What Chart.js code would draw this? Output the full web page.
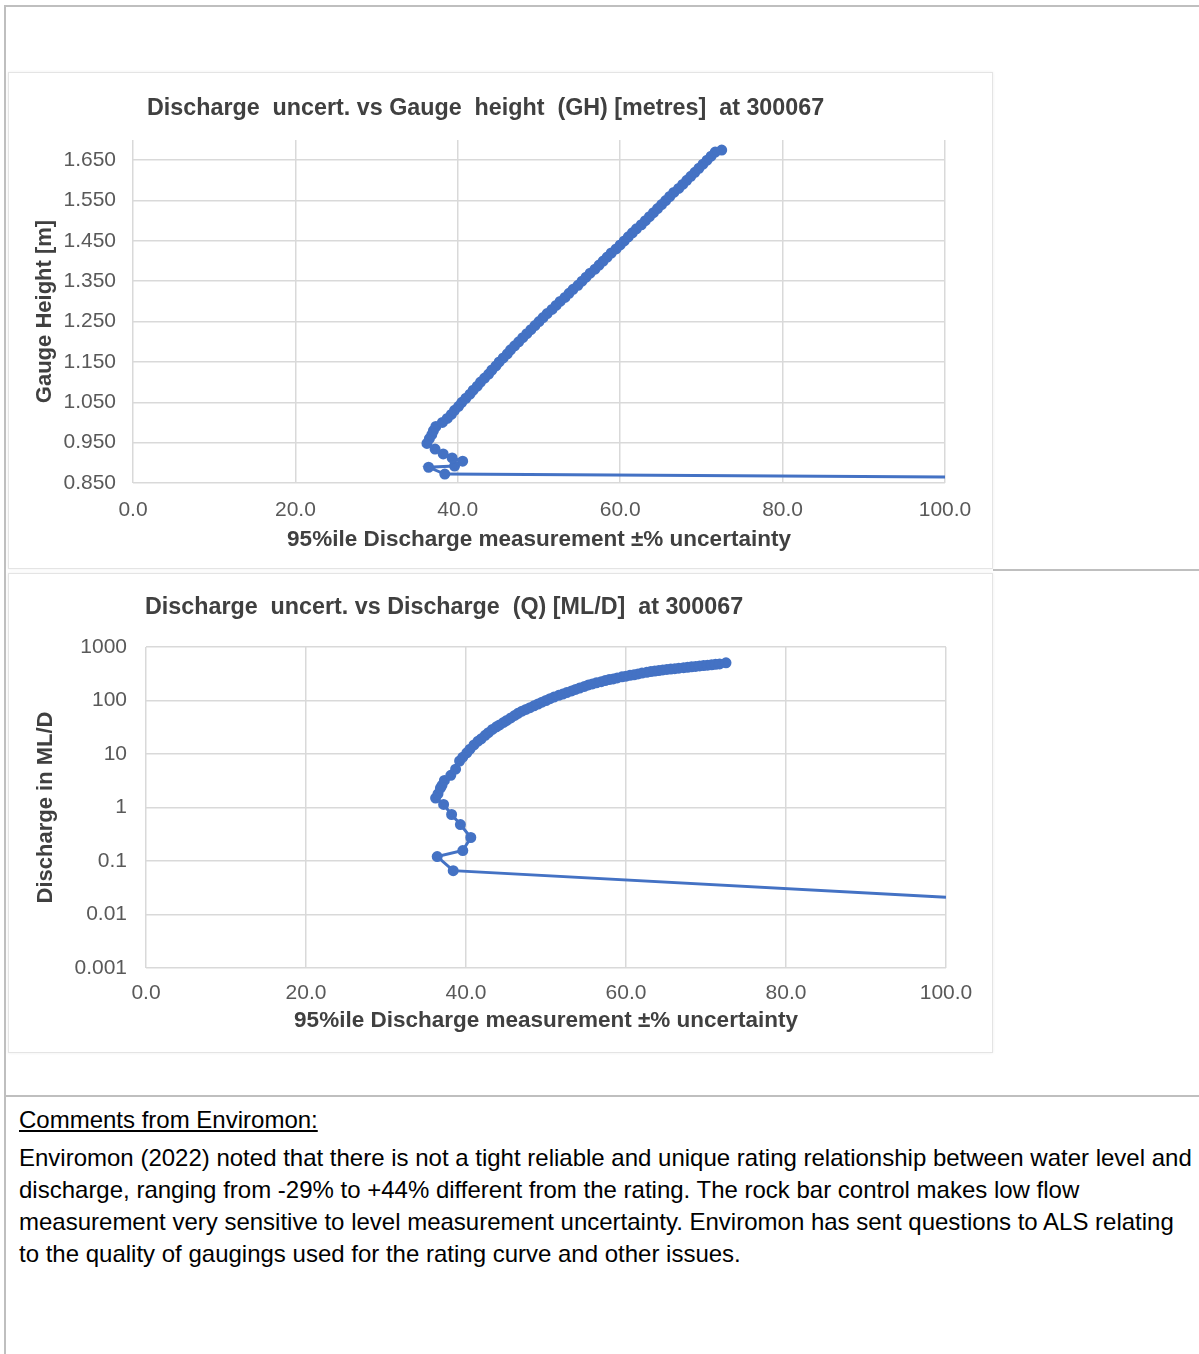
<!DOCTYPE html>
<html>
<head>
<meta charset="utf-8">
<script src="https://cdn.jsdelivr.net/npm/chart.js@4.4.0/dist/chart.umd.min.js"></script>
<style>
  body { margin: 0; background: #fff; }
  #page { position: relative; width: 1199px; height: 1354px; overflow: hidden; font-family: "Liberation Sans", Arial, sans-serif; }
  .rule { position: absolute; background: #bfbfbf; }
  .panel { position: absolute; left: 8px; width: 983px; border: 1px solid #e4e4e4; box-shadow: 0 0 3px rgba(0,0,0,0.07); background: #fff; }
  .chartbox { position: absolute; left: 8px; width: 985px; }
  .ctitle { position: absolute; font-weight: bold; font-size: 23.3px; line-height: 26px; color: #404040; white-space: pre; }
  #comments { position: absolute; left: 19px; top: 1104px; font-size: 24px; line-height: 32px; color: #000; white-space: nowrap; }
  #comments .head { text-decoration: underline; margin-bottom: 6px; }
</style>
</head>
<body>
<div id="page">
  <div class="rule" style="left:4px; top:5px; width:1195px; height:2px;"></div>
  <div class="rule" style="left:4px; top:5px; width:2px; height:1349px;"></div>
  <div class="rule" style="left:993px; top:569px; width:206px; height:2px;"></div>
  <div class="rule" style="left:4px; top:1095px; width:1195px; height:2px;"></div>

  <div class="panel" style="top:72px; height:495px;"></div>
  <div class="panel" style="top:573px; height:478px;"></div>

  <div class="chartbox" style="top:72px; height:497px;"><canvas id="gaugeChart" width="985" height="497"></canvas></div>
  <div class="chartbox" style="top:573px; height:480px;"><canvas id="dischargeChart" width="985" height="480"></canvas></div>

  <div class="ctitle" style="left:147px; top:94px;">Discharge  uncert. vs Gauge  height  (GH) [metres]  at 300067</div>
  <div class="ctitle" style="left:145px; top:593px;">Discharge  uncert. vs Discharge  (Q) [ML/D]  at 300067</div>

  <div id="comments">
    <div class="head">Comments from Enviromon:</div>
    Enviromon (2022) noted that there is not a tight reliable and unique rating relationship between water level and<br>
    discharge, ranging from -29% to +44% different from the rating. The rock bar control makes low flow<br>
    measurement very sensitive to level measurement uncertainty. Enviromon has sent questions to ALS relating<br>
    to the quality of gaugings used for the rating curve and other issues.
  </div>
</div>

<script>
// --- DATA ---
// 95%ile discharge measurement +/-% uncertainty for each rating point
const uncertainty = [100.0, 38.4, 36.4, 39.6, 40.6, 39.3, 38.2, 37.2, 36.2,
  36.5, 36.8, 37.0, 37.3, 38.1, 38.7, 39.2, 39.6, 40.1, 40.5,
  41.0, 41.5, 41.9, 42.4, 42.8, 43.3, 43.8, 44.2, 44.7, 45.1,
  45.6, 46.1, 46.5, 47.0, 47.5, 48.0, 48.5, 49.0, 49.5, 50.0,
  50.5, 51.0, 51.6, 52.1, 52.6, 53.2, 53.7, 54.2, 54.8, 55.3,
  55.8, 56.3, 56.9, 57.4, 57.9, 58.4, 58.9, 59.5, 60.0, 60.5,
  61.0, 61.5, 62.0, 62.6, 63.1, 63.6, 64.1, 64.6, 65.1, 65.6,
  66.1, 66.6, 67.2, 67.7, 68.2, 68.7, 69.2, 69.7, 70.2, 70.7,
  71.2, 71.7, 72.5];

// gauge height [m]
const gaugeHeight = [0.865, 0.872, 0.889, 0.892, 0.904, 0.912, 0.922, 0.934, 0.948,
  0.96, 0.97, 0.98, 0.99, 1.00, 1.01, 1.02, 1.03, 1.04, 1.05,
  1.06, 1.07, 1.08, 1.09, 1.10, 1.11, 1.12, 1.13, 1.14, 1.15,
  1.16, 1.17, 1.18, 1.19, 1.20, 1.21, 1.22, 1.23, 1.24, 1.25,
  1.26, 1.27, 1.28, 1.29, 1.30, 1.31, 1.32, 1.33, 1.34, 1.35,
  1.36, 1.37, 1.38, 1.39, 1.40, 1.41, 1.42, 1.43, 1.44, 1.45,
  1.46, 1.47, 1.48, 1.49, 1.50, 1.51, 1.52, 1.53, 1.54, 1.55,
  1.56, 1.57, 1.58, 1.59, 1.60, 1.61, 1.62, 1.63, 1.64, 1.65,
  1.66, 1.67, 1.675];

// discharge [ML/D]
const discharge = [0.021, 0.066, 0.121, 0.157, 0.275, 0.48, 0.74, 1.14, 1.5,
  1.8, 2.3, 2.6, 3.2, 4.0, 5.2, 7.4, 8.7, 10.5, 12.3,
  14.8, 17.4, 19.2, 22.3, 25.0, 28.8, 32.2, 34.9, 38.9, 42.5,
  47.2, 52.5, 57.5, 63, 68, 73.5, 79.5, 86, 93, 100,
  108, 116, 125, 132, 141, 151, 161, 171, 183, 195,
  204, 214, 225, 236, 246, 253, 264, 277, 285, 295,
  303, 314, 325, 337, 347, 356, 363, 372, 380, 388,
  394, 402, 410, 418, 426, 434, 442, 450, 458, 466,
  474, 482, 505];

const xTicks = [0, 20, 40, 60, 80, 100];
const gaugeTicks = [0.85, 0.95, 1.05, 1.15, 1.25, 1.35, 1.45, 1.55, 1.65];
const dischargeTicks = [0.001, 0.01, 0.1, 1, 10, 100, 1000];

const xTitle = '95%ile Discharge measurement \u00b1% uncertainty';

// --- SHARED STYLE ---
const BLUE = '#4472C4';
const GRID = '#d9d9d9';
const tickFont = { family: 'Liberation Sans', size: 21 };
const titleFont = { family: 'Liberation Sans', size: 22, weight: 'bold' };
const xTitleFont = { family: 'Liberation Sans', size: 22.5, weight: 'bold' };

function seriesStyle() {
  return {
    showLine: true,
    borderColor: BLUE,
    backgroundColor: BLUE,
    borderWidth: 3,
    // no marker on the point that runs off the right edge
    pointRadius: ctx => (ctx.raw && ctx.raw.x >= 100 ? 0 : 4),
    pointHoverRadius: 0
  };
}

function xScale(height, tickPad) {
  return {
    type: 'linear',
    min: 0,
    max: 100,
    afterBuildTicks: s => { s.ticks = xTicks.map(v => ({ value: v })); },
    afterFit: s => { s.height = height; s.paddingLeft = 0; s.paddingRight = 0; },
    ticks: { callback: v => v.toFixed(1), font: tickFont, color: '#595959', padding: tickPad, maxRotation: 0 },
    grid: { color: GRID, lineWidth: 1.5, drawTicks: false },
    border: { display: false },
    title: { display: true, text: xTitle, font: xTitleFont, color: '#404040', padding: { top: 0, bottom: 4 } }
  };
}

// --- CHART 1: uncertainty vs gauge height ---
const gaugeChart = new Chart(document.getElementById('gaugeChart'), {
  type: 'scatter',
  data: {
    datasets: [Object.assign({
      data: uncertainty.map((u, i) => ({ x: u, y: gaugeHeight[i] }))
    }, seriesStyle())]
  },
  options: {
    responsive: false,
    animation: false,
    layout: { padding: { left: 24, right: 48, top: 68, bottom: 12 } },
    plugins: { legend: { display: false }, tooltip: { enabled: false } },
    scales: {
      x: xScale(74, 15),
      y: {
        type: 'linear',
        min: 0.85,
        max: 1.7,
        afterBuildTicks: s => { s.ticks = gaugeTicks.map(v => ({ value: v })); },
        afterFit: s => { s.width = 101; s.paddingTop = 0; s.paddingBottom = 0; },
        ticks: { callback: v => v.toFixed(3), font: tickFont, color: '#595959', padding: 17 },
        grid: { color: GRID, lineWidth: 1.5, drawTicks: false },
        border: { display: false },
        title: { display: true, text: 'Gauge Height [m]', font: titleFont, color: '#404040', padding: 0 }
      }
    }
  }
});

// --- CHART 2: uncertainty vs discharge (log) ---
const dischargeChart = new Chart(document.getElementById('dischargeChart'), {
  type: 'scatter',
  data: {
    datasets: [Object.assign({
      data: uncertainty.map((u, i) => ({ x: u, y: discharge[i] }))
    }, seriesStyle())]
  },
  options: {
    responsive: false,
    animation: false,
    layout: { padding: { left: 25, right: 47, top: 74, bottom: 15 } },
    plugins: { legend: { display: false }, tooltip: { enabled: false } },
    scales: {
      x: xScale(70, 13),
      y: {
        type: 'logarithmic',
        min: 0.001,
        max: 1000,
        afterBuildTicks: s => { s.ticks = dischargeTicks.map(v => ({ value: v })); },
        afterFit: s => { s.width = 113; s.paddingTop = 0; s.paddingBottom = 0; },
        ticks: { callback: v => String(v), font: tickFont, color: '#595959', padding: 19 },
        grid: { color: GRID, lineWidth: 1.5, drawTicks: false },
        border: { display: false },
        title: { display: true, text: 'Discharge in ML/D', font: titleFont, color: '#404040', padding: 0 }
      }
    }
  }
});
</script>
</body>
</html>
